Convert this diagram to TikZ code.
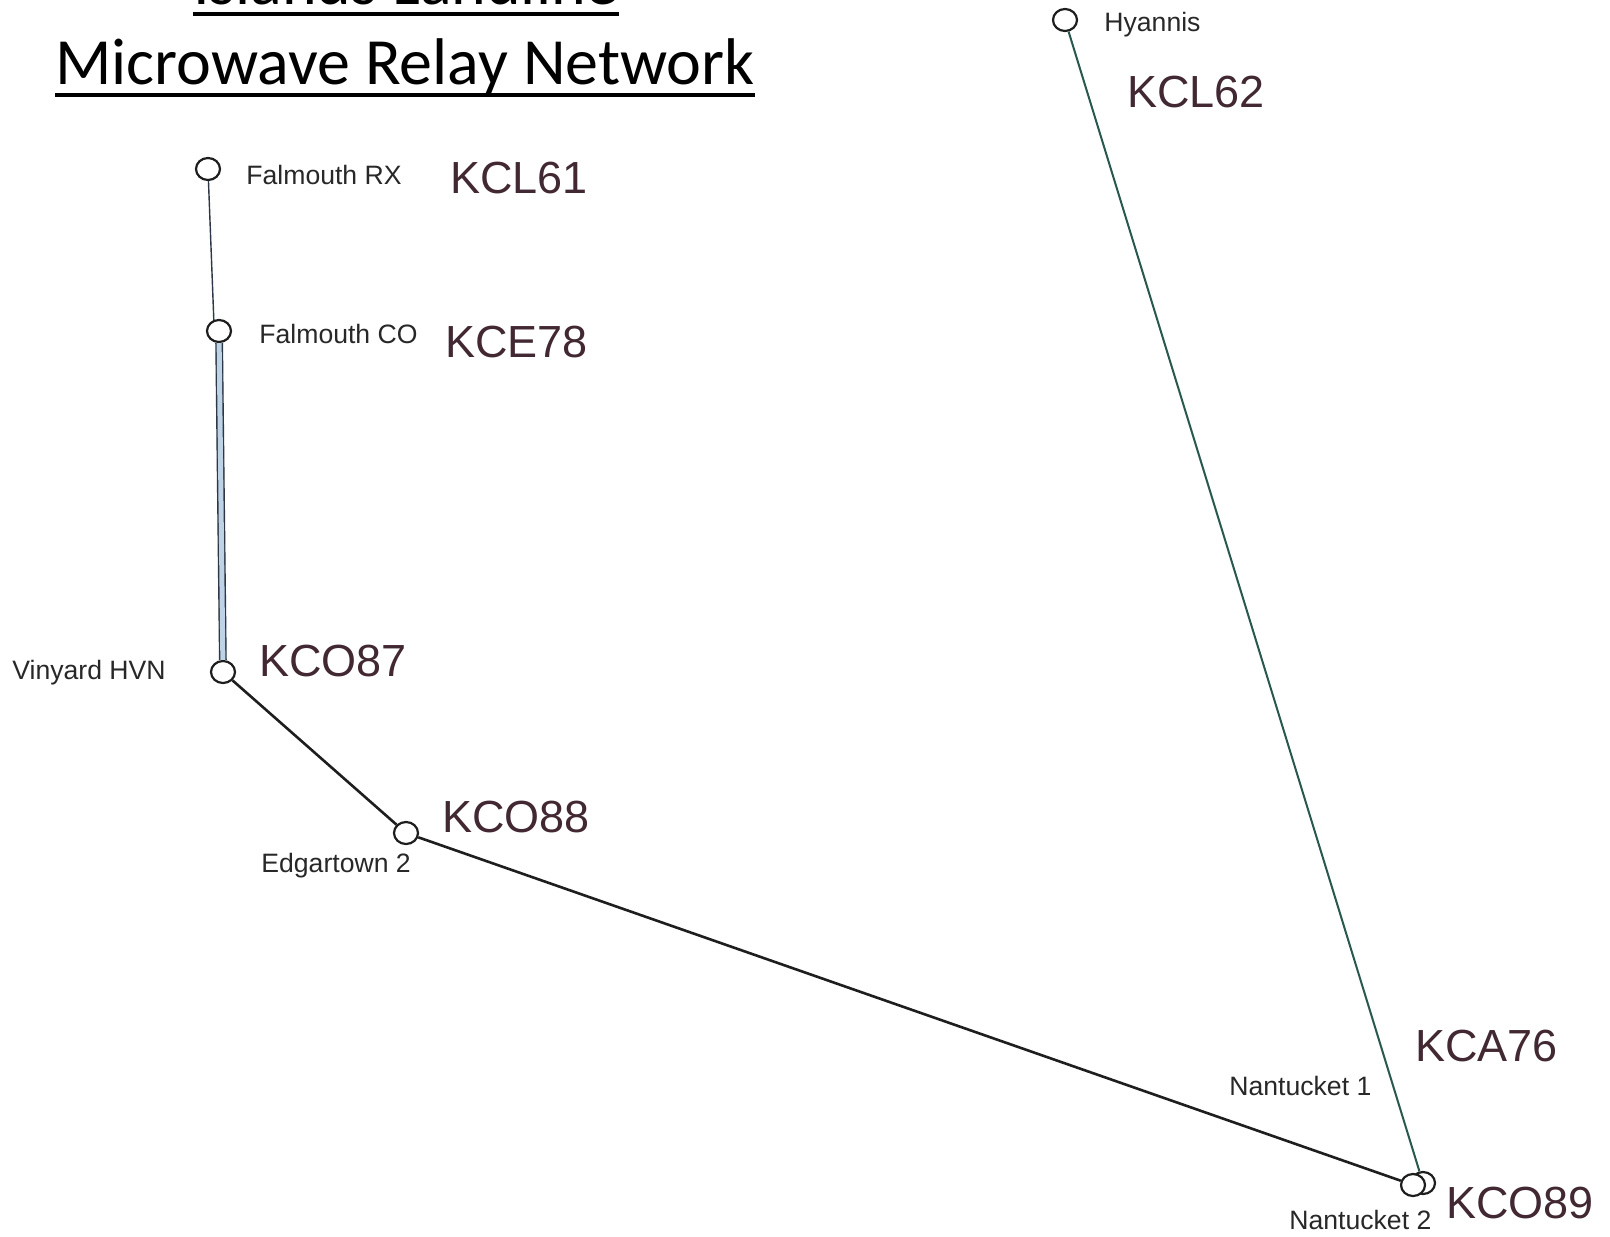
\documentclass[tikz,border=0pt]{standalone}
\usepackage{fontspec}
\setmainfont{Liberation Sans}
\newfontfamily\ttlfont{Carlito}
\usetikzlibrary{shapes.geometric}
\definecolor{ink}{RGB}{30,30,30}
\definecolor{sitegray}{RGB}{40,40,40}
\definecolor{callred}{RGB}{66,40,50}
\definecolor{tealink}{RGB}{40,88,78}
\definecolor{slate}{RGB}{45,55,70}
\definecolor{paleblue}{RGB}{190,212,230}

\begin{document}
\begin{tikzpicture}[x=0.5pt,y=-0.5pt,
            stn/.style={
                ellipse,
                draw=ink,
                fill=white,
                line width=1.1pt,
                minimum width=12pt,
                minimum height=11pt,
                inner sep=0pt
            },
            site/.style={
                anchor=base west,
                inner sep=0pt,
                text=sitegray,
                font=\fontsize{13.3}{16}\selectfont
            },
            call/.style={
                anchor=base west,
                inner sep=0pt,
                text=callred,
                font=\fontsize{22.5}{27}\selectfont
            },
            ttl/.style={
                anchor=base,
                inner sep=0pt,
                font=\ttlfont\fontsize{33}{40}\selectfont
            },
            ul/.style={line width=2pt},
            link/.style={draw=ink, line width=1.3pt},
            thinlink/.style={draw=slate, line width=0.7pt}
        ]
            \useasboundingbox (0,0) rectangle (1610,1236);
            \clip (0,0) rectangle (1610,1236);
            \fill[white] (0,0) rectangle (1610,1236);

            % title
            \node[ttl] (ttlA) at (406,5) {Islands Landline};
            \node[ttl] (ttlB) at (405,84) {Microwave Relay Network};
            \draw[ul] ([yshift=-4.5pt]ttlA.base west) -- ([yshift=-4.5pt]ttlA.base east);
            \draw[ul] ([yshift=-5.5pt]ttlB.base west) -- ([yshift=-5.5pt]ttlB.base east);

            % relay sites
            \foreach \id/\x/\y in {
                rx/208/169,
                co/219/331,
                vh/223/672,
                ed/406/833,
                hy/1065/20,
                nb/1423/1183,
                na/1413/1185
            } {
                \node[stn] (\id) at (\x,\y) {};
            }

            % links
            \draw[thinlink] (rx) -- (co.115);
            \draw[thinlink, double=paleblue, double distance=2.5pt] (co) -- (vh);
            \draw[link] (vh) -- (ed);
            \draw[link] (ed) -- (na);
            \draw[draw=tealink, line width=1pt] (hy) -- (nb);

            % site names
            \foreach \id/\txt/\x/\y in {
                rxT/Falmouth RX/246/184,
                coT/Falmouth CO/259/343,
                vhT/Vinyard HVN/12/679,
                edT/Edgartown 2/261/872,
                nbT/Nantucket 1/1229/1095,
                naT/Nantucket 2/1289/1229,
                hyT/Hyannis/1104/32
            } {
                \node[site] (\id) at (\x,\y) {\txt};
            }

            % call signs
            \foreach \id/\txt/\x/\y in {
                rxC/KCL61/450/193,
                coC/KCE78/445/357,
                vhC/KCO87/259/676,
                edC/KCO88/442/832,
                nbC/KCA76/1415/1061,
                naC/KCO89/1446/1218,
                hyC/KCL62/1127/108
            } {
                \node[call] (\id) at (\x,\y) {\txt};
            }
        \end{tikzpicture}
\end{document}
